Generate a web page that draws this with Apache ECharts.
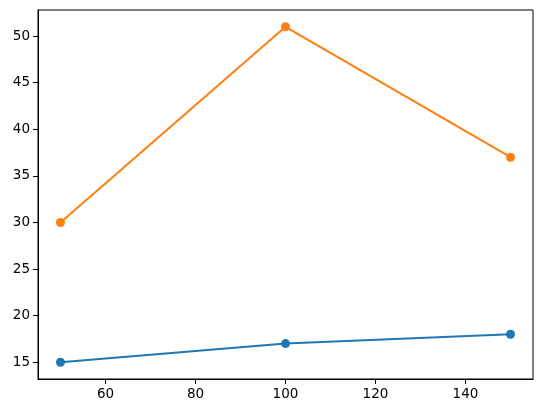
<!DOCTYPE html>
<html>
<head>
<meta charset="utf-8">
<script src="https://cdn.jsdelivr.net/npm/echarts@6/dist/echarts.min.js"></script>
<style>
  html, body { margin: 0; padding: 0; background: #fff; }
  #chart { width: 543px; height: 413px; }
</style>
</head>
<body>
<div id="chart"></div>
<script>
  // data
  let xValues = [50, 100, 150];
  let blueValues = [15, 17, 18];
  let orangeValues = [30, 51, 37];
  let xTicks = [60, 80, 100, 120, 140];
  let yTicks = [15, 20, 25, 30, 35, 40, 45, 50];

  function pairs(xs, ys) {
    return xs.map(function (x, i) { return [x, ys[i]]; });
  }

  let labelStyle = { color: '#000', fontFamily: 'DejaVu Sans', fontSize: 13.5 };

  let option = {
    animation: false,
    grid: {
      left: 38, right: 10, top: 10, bottom: 34,
      show: true, borderColor: '#000', borderWidth: 1
    },
    xAxis: {
      type: 'value',
      min: 45, max: 155,
      splitLine: { show: false },
      axisLine: { show: true, lineStyle: { color: '#000', width: 1 } },
      axisTick: { show: true, length: 5, customValues: xTicks, lineStyle: { color: '#000' } },
      axisLabel: Object.assign({ customValues: xTicks, margin: 8 }, labelStyle)
    },
    yAxis: {
      type: 'value',
      min: 13.2, max: 52.8,
      splitLine: { show: false },
      axisLine: { show: true, lineStyle: { color: '#000', width: 1 } },
      axisTick: { show: true, length: 5, customValues: yTicks, lineStyle: { color: '#000' } },
      axisLabel: Object.assign({ customValues: yTicks, margin: 8 }, labelStyle)
    },
    series: [
      {
        type: 'line',
        data: pairs(xValues, blueValues),
        symbol: 'circle', symbolSize: 9,
        itemStyle: { color: '#1f77b4' },
        lineStyle: { color: '#1f77b4', width: 2 }
      },
      {
        type: 'line',
        data: pairs(xValues, orangeValues),
        symbol: 'circle', symbolSize: 9,
        itemStyle: { color: '#ff7f0e' },
        lineStyle: { color: '#ff7f0e', width: 2 }
      }
    ]
  };

  echarts.init(document.getElementById('chart')).setOption(option);
</script>
</body>
</html>
